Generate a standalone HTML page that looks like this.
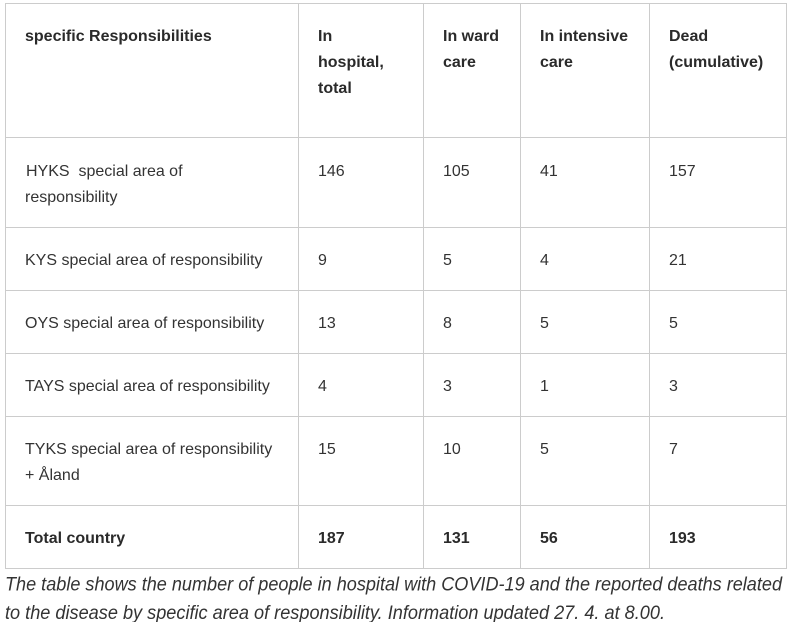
<!DOCTYPE html>
<html>
<head>
<meta charset="utf-8">
<style>
  html, body { margin:0; padding:0; background:#ffffff; }
  body { width:791px; height:622px; position:relative; overflow:hidden;
         font-family:"Liberation Sans", Arial, sans-serif; color:#333333; }
  .h { position:absolute; height:1px; background:#cccccc; left:5px; width:782px; }
  .v { position:absolute; width:1px; background:#cccccc; top:3px; height:566px; }
  .t { position:absolute; font-size:16px; line-height:26px; white-space:nowrap; }
  .b { font-weight:bold; color:#2a2a2a; }
  svg { position:absolute; left:0; top:0; }
</style>
</head>
<body>
  <!-- horizontal lines -->
  <div class="h" style="top:3px"></div>
  <div class="h" style="top:137px"></div>
  <div class="h" style="top:227px"></div>
  <div class="h" style="top:290px"></div>
  <div class="h" style="top:353px"></div>
  <div class="h" style="top:416px"></div>
  <div class="h" style="top:505px"></div>
  <div class="h" style="top:568px"></div>
  <!-- vertical lines -->
  <div class="v" style="left:5px"></div>
  <div class="v" style="left:298px"></div>
  <div class="v" style="left:423px"></div>
  <div class="v" style="left:520px"></div>
  <div class="v" style="left:649px"></div>
  <div class="v" style="left:786px"></div>

  <!-- header -->
  <div class="t b" style="left:25px; top:24px">specific Responsibilities</div>
  <div class="t b" style="left:318px; top:24px">In<br>hospital,<br>total</div>
  <div class="t b" style="left:443px; top:24px">In ward<br>care</div>
  <div class="t b" style="left:540px; top:24px">In intensive<br>care</div>
  <div class="t b" style="left:669px; top:24px">Dead<br>(cumulative)</div>

  <!-- HYKS -->
  <div class="t" style="left:26px; top:159px">HYKS&nbsp; special area of<br><span style="margin-left:-1px">responsibility</span></div>
  <div class="t" style="left:318px; top:159px">146</div>
  <div class="t" style="left:443px; top:159px">105</div>
  <div class="t" style="left:540px; top:159px">41</div>
  <div class="t" style="left:669px; top:159px">157</div>

  <!-- KYS -->
  <div class="t" style="left:25px; top:248px">KYS special area of responsibility</div>
  <div class="t" style="left:318px; top:248px">9</div>
  <div class="t" style="left:443px; top:248px">5</div>
  <div class="t" style="left:540px; top:248px">4</div>
  <div class="t" style="left:669px; top:248px">21</div>

  <!-- OYS -->
  <div class="t" style="left:25px; top:311px">OYS special area of responsibility</div>
  <div class="t" style="left:318px; top:311px">13</div>
  <div class="t" style="left:443px; top:311px">8</div>
  <div class="t" style="left:540px; top:311px">5</div>
  <div class="t" style="left:669px; top:311px">5</div>

  <!-- TAYS -->
  <div class="t" style="left:25px; top:374px">TAYS special area of responsibility</div>
  <div class="t" style="left:318px; top:374px">4</div>
  <div class="t" style="left:443px; top:374px">3</div>
  <div class="t" style="left:540px; top:374px">1</div>
  <div class="t" style="left:669px; top:374px">3</div>

  <!-- TYKS -->
  <div class="t" style="left:25px; top:437px">TYKS special area of responsibility<br>+ Åland</div>
  <div class="t" style="left:318px; top:437px">15</div>
  <div class="t" style="left:443px; top:437px">10</div>
  <div class="t" style="left:540px; top:437px">5</div>
  <div class="t" style="left:669px; top:437px">7</div>

  <!-- Total -->
  <div class="t b" style="left:25px; top:526px">Total country</div>
  <div class="t b" style="left:318px; top:526px">187</div>
  <div class="t b" style="left:443px; top:526px">131</div>
  <div class="t b" style="left:540px; top:526px">56</div>
  <div class="t b" style="left:669px; top:526px">193</div>

  <!-- caption -->
  <svg width="791" height="622" viewBox="0 0 791 622">
    <text x="5" y="590.5" font-family="Liberation Sans, Arial, sans-serif" font-size="19" font-style="italic" fill="#333333" textLength="777" lengthAdjust="spacingAndGlyphs">The table shows the number of people in hospital with COVID-19 and the reported deaths related</text>
    <text x="5" y="619" font-family="Liberation Sans, Arial, sans-serif" font-size="19" font-style="italic" fill="#333333" textLength="660" lengthAdjust="spacingAndGlyphs">to the disease by specific area of responsibility. Information updated 27. 4. at 8.00.</text>
  </svg>
</body>
</html>
